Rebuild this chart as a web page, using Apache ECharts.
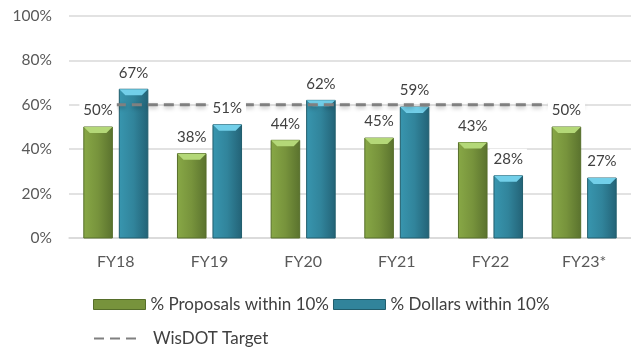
<!DOCTYPE html>
<html>
<head>
<meta charset="utf-8">
<script src="https://cdn.jsdelivr.net/npm/echarts@6/dist/echarts.min.js"></script>
<style>
  html, body { margin: 0; padding: 0; background: #fff; }
  #chart { width: 631px; height: 347px; }
</style>
</head>
<body>
<div id="chart"></div>
<script>
// Fiscal years on the x axis
const years = ['FY18', 'FY19', 'FY20', 'FY21', 'FY22', 'FY23*'];
// Share of proposals whose bid came within 10% of the estimate
const proposalsWithin10 = [50, 38, 44, 45, 43, 50];
// Share of dollars within 10% of the estimate
const dollarsWithin10 = [67, 51, 62, 59, 28, 27];
// Department target level
const wisdotTarget = [60, 60, 60, 60, 60, 60];
// Y axis ticks
const yTicks = [0, 20, 40, 60, 80, 100];

const FONT = 'Lato, "Open Sans", sans-serif';

const palettes = {
  green: { light: '#88a846', mid: '#77933c', dark: '#5a722e', bevel: '#b4d878', edge: '#566e2a' },
  blue:  { light: '#3896af', mid: '#31849b', dark: '#236276', bevel: '#72cfe9', edge: '#215d6c' }
};

// Bar geometry as fractions of one category band
const BAR_W = 0.305;
const BAR_GAP = 0.074;

function barBox(api, side) {
  const cat = api.value(0), val = api.value(1);
  const base = api.coord([cat, 0]);
  const top = api.coord([cat, val]);
  const band = api.size([1, 0])[0];
  const w = band * BAR_W;
  const cx = base[0] + side * (w + band * BAR_GAP) / 2;
  return { x: cx - w / 2, y: top[1], w: w, h: base[1] - top[1], val: val };
}

function bevelBar(side, p) {
  return function (params, api) {
    const b = barBox(api, side);
    const bv = 6;
    return {
      type: 'group',
      children: [
        {
          type: 'rect',
          shape: { x: b.x, y: b.y, width: b.w, height: b.h },
          style: {
            fill: new echarts.graphic.LinearGradient(0, 0, 1, 0, [
              { offset: 0, color: p.light },
              { offset: 0.5, color: p.mid },
              { offset: 1, color: p.dark }
            ]),
            stroke: p.edge,
            lineWidth: 1
          }
        },
        {
          type: 'polygon',
          shape: { points: [[b.x, b.y], [b.x + b.w, b.y], [b.x + b.w - bv, b.y + bv], [b.x + bv, b.y + bv]] },
          style: { fill: p.bevel }
        }
      ]
    };
  };
}

function barLabel(side) {
  return function (params, api) {
    const b = barBox(api, side);
    return {
      type: 'text',
      x: b.x + b.w / 2,
      y: b.y - 6,
      style: {
        text: b.val + '%',
        font: '15px ' + FONT,
        fill: '#404040',
        align: 'center',
        verticalAlign: 'bottom',
        backgroundColor: '#ffffff',
        padding: [3, 4, 3, 4]
      }
    };
  };
}

const pairs = arr => arr.map((v, i) => [i, v]);

const chart = echarts.init(document.getElementById('chart'), null, { renderer: 'canvas' });

chart.setOption({
  animation: false,
  textStyle: { fontFamily: FONT },
  grid: { left: 69, top: 16, width: 569, height: 222, containLabel: false },
  xAxis: {
    type: 'category',
    data: years,
    axisLine: { lineStyle: { color: '#d9d9d9', width: 1.5 } },
    axisTick: { show: false },
    axisLabel: { color: '#595959', fontSize: 16, margin: 16, fontFamily: FONT }
  },
  yAxis: {
    type: 'value',
    min: yTicks[0],
    max: yTicks[yTicks.length - 1],
    interval: yTicks[1] - yTicks[0],
    axisLine: { show: false },
    axisTick: { show: false },
    axisLabel: { color: '#595959', fontSize: 15.5, margin: 17, formatter: '{value}%', fontFamily: FONT },
    splitLine: { lineStyle: { color: '#d9d9d9', width: 1.5 } }
  },
  legend: [
    {
      left: 93, top: 296, padding: 0,
      itemWidth: 52, itemHeight: 10, itemGap: 4,
      textStyle: { color: '#404040', fontSize: 17, fontFamily: FONT },
      data: [
        { name: '% Proposals within 10%', icon: 'rect', itemStyle: { color: palettes.green.mid, borderColor: palettes.green.edge, borderWidth: 1 } },
        { name: '% Dollars within 10%', icon: 'rect', itemStyle: { color: palettes.blue.mid, borderColor: palettes.blue.edge, borderWidth: 1 } }
      ]
    },
    {
      left: 93, top: 330, padding: 0,
      itemWidth: 44, itemHeight: 14, itemGap: 5,
      itemStyle: { opacity: 0 },
      textStyle: { color: '#404040', fontSize: 17, fontFamily: FONT, padding: [0, 0, 0, 10] },
      data: ['WisDOT Target']
    }
  ],
  series: [
    {
      name: '% Proposals within 10%',
      type: 'custom',
      z: 2,
      itemStyle: { color: palettes.green.mid },
      renderItem: bevelBar(-1, palettes.green),
      encode: { x: 0, y: 1 },
      data: pairs(proposalsWithin10)
    },
    {
      name: '% Dollars within 10%',
      type: 'custom',
      z: 2,
      itemStyle: { color: palettes.blue.mid },
      renderItem: bevelBar(1, palettes.blue),
      encode: { x: 0, y: 1 },
      data: pairs(dollarsWithin10)
    },
    {
      name: 'WisDOT Target',
      type: 'line',
      z: 3,
      symbol: 'none',
      data: wisdotTarget,
      itemStyle: { color: '#808080' },
      lineStyle: {
        color: '#808080', width: 3, type: [10, 6],
        shadowBlur: 4, shadowColor: 'rgba(0,0,0,0.25)', shadowOffsetY: 2
      }
    },
    {
      name: 'proposal labels',
      type: 'custom',
      z: 5,
      renderItem: barLabel(-1),
      encode: { x: 0, y: 1 },
      data: pairs(proposalsWithin10)
    },
    {
      name: 'dollar labels',
      type: 'custom',
      z: 5,
      renderItem: barLabel(1),
      encode: { x: 0, y: 1 },
      data: pairs(dollarsWithin10)
    }
  ]
});
</script>
</body>
</html>
